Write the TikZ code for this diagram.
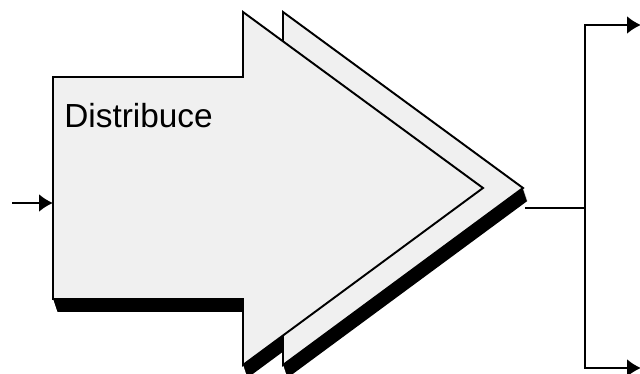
\documentclass[tikz,border=0pt]{standalone}
\usepackage{fontspec}
\setmainfont{Liberation Sans}
\usetikzlibrary{arrows.meta}
\definecolor{boxgray}{HTML}{F0F0F0}

\begin{document}
\begin{tikzpicture}[
    x=0.02cm, y=-0.02cm,
    distarrow/.pic={\path[pic actions] (53,77) -- (243,77) -- (243,12) -- (483,188)
                     -- (243,365) -- (243,299) -- (53,299) -- cycle;},
    face/.style={fill=boxgray, draw=black, line width=1.1pt, line join=miter},
    shade/.style={fill=black},
    line/.style={draw=black, line width=1.2pt},
    flow/.style={line, -{Latex[length=0.28cm, width=0.36cm]}}
]
\useasboundingbox (0,0) rectangle (640,374);

% Shadow
\foreach \t in {0,1,...,13} {
    \pic[shade] at (\t/3, \t) {distarrow};
    \pic[shade] at (40+\t/3, \t) {distarrow};
}

% Back arrow
\pic[face] at (40,0) {distarrow};

% Front arrow
\pic[face] at (0,0) {distarrow};

% Label
\node[anchor=base west, inner sep=0, font=\fontsize{19}{19}\selectfont] (dist) at (64,128) {Distribuce};

% Input
\coordinate (src) at (12,203);
\coordinate (entry) at (53,203);
\draw[flow] (src) -- (entry);

% Output
\coordinate (tip) at (525,208);
\coordinate (fork) at (585,208);
\coordinate (out1) at (641,25);
\coordinate (out2) at (641,368);
\draw[line] (tip) -- (fork);
\draw[flow] (fork) |- (out1);
\draw[flow] (fork) |- (out2);
\end{tikzpicture}
\end{document}
